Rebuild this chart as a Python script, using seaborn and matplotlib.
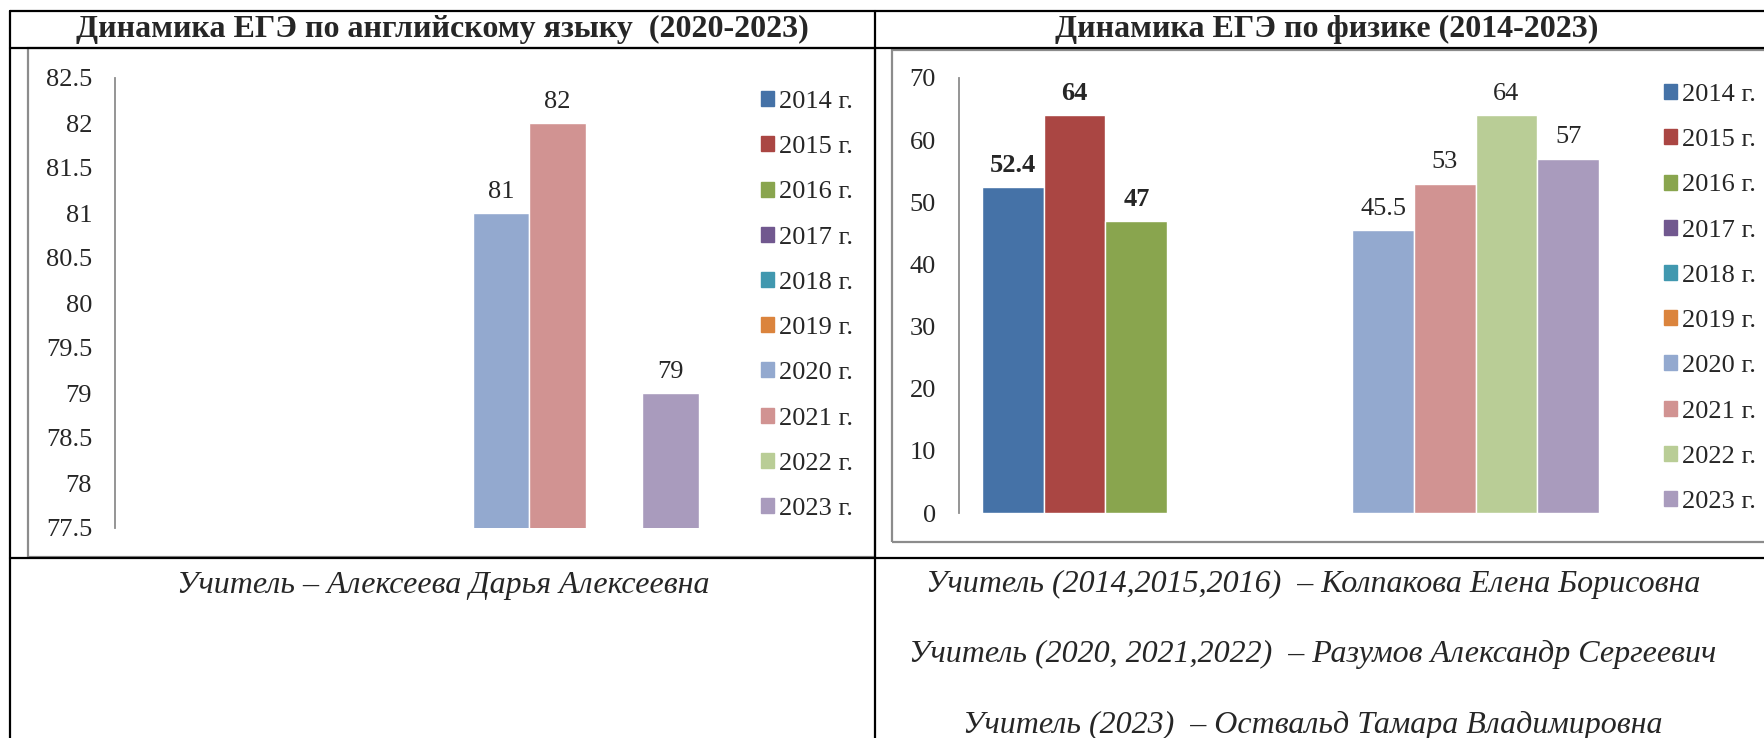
import numpy as np
import pandas as pd
import seaborn as sns
import matplotlib.pyplot as plt
from matplotlib.patches import Patch, Rectangle
from matplotlib.lines import Line2D

years = ['2014 г.', '2015 г.', '2016 г.', '2017 г.', '2018 г.',
         '2019 г.', '2020 г.', '2021 г.', '2022 г.', '2023 г.']
colors = ['#4572A7', '#AA4643', '#89A54E', '#71588F', '#4198AF',
          '#DB843D', '#93A9CF', '#D19392', '#B9CD96', '#A99BBD']
english = [np.nan, np.nan, np.nan, np.nan, np.nan, np.nan, 81, 82, np.nan, 79]
physics = [52.4, 64, 47, np.nan, np.nan, np.nan, 45.5, 53, 64, 57]
physics_bold = ['2014 г.', '2015 г.', '2016 г.']

title_eng = 'Динамика ЕГЭ по английскому языку  (2020-2023)'
title_phys = 'Динамика ЕГЭ по физике (2014-2023)'
teacher_eng = ['Учитель – Алексеева Дарья Алексеевна']
teacher_phys = ['Учитель (2014,2015,2016)  – Колпакова Елена Борисовна',
                'Учитель (2020, 2021,2022)  – Разумов Александр Сергеевич',
                'Учитель (2023)  – Оствальд Тамара Владимировна']

sns.set_style("white")
plt.rcParams['font.family'] = ['Liberation Serif', 'DejaVu Serif']

W, H = 1765, 738
fig = plt.figure(figsize=(W / 100, H / 100), dpi=100)


def fx(px):
    return px / W


def fy(py):
    return 1 - py / H


palette = dict(zip(years, colors))

# table lines
black = dict(color='black', lw=1.6, transform=fig.transFigure)
fig.add_artist(Line2D([fx(10), 1], [fy(10.5), fy(10.5)], **black))
fig.add_artist(Line2D([fx(10), 1], [fy(48), fy(48)], **black))
fig.add_artist(Line2D([fx(10), 1], [fy(558), fy(558)], **black))
fig.add_artist(Line2D([fx(10), fx(10)], [fy(10.5), 0], **black))
fig.add_artist(Line2D([fx(875), fx(875)], [fy(10.5), 0], **black))

# chart frames
for x0, y0, x1, y1 in [(28, 48, 875, 557), (892, 50, 1775, 542)]:
    fig.add_artist(Rectangle((fx(x0), fy(y1)), fx(x1 - x0), (y1 - y0) / H,
                             fill=False, edgecolor='#8c8c8c', lw=1.6,
                             transform=fig.transFigure))

fig.text(fx(442), fy(29), title_eng, ha='center', va='center',
         fontsize=23, fontweight='bold')
fig.text(fx(1327), fy(29), title_phys, ha='center', va='center',
         fontsize=23, fontweight='bold')

fig.text(fx(443), fy(585), teacher_eng[0], ha='center', va='center',
         fontsize=23, fontstyle='italic')
for t, yy in zip(teacher_phys, [584, 654, 725]):
    fig.text(fx(1313), fy(yy), t, ha='center', va='center',
             fontsize=23, fontstyle='italic')


def draw(ax, values, ylim, step, bold_years, xlim):
    df = pd.DataFrame({'g': [''] * len(years), 'year': years, 'value': values})
    sns.barplot(data=df, x='g', y='value', hue='year', hue_order=years,
                palette=palette, saturation=1, width=0.8, errorbar=None,
                legend=False, ax=ax)
    # one container per hue level; skip the empty years
    for cont, yr, v in zip(ax.containers, years, values):
        if np.isnan(v):
            continue
        ax.bar_label(cont, fmt='{:g}', padding=7.5, fontsize=19,
                     fontweight='bold' if yr in bold_years else 'normal')
    ax.set_ylim(*ylim)
    ax.set_xlim(*xlim)
    ticks = np.arange(ylim[0], ylim[1] + step / 2, step)
    ax.set_yticks(ticks)
    ax.set_yticklabels([f'{t:g}' for t in ticks], fontsize=19)
    ax.set_xticks([])
    ax.set_xlabel('')
    ax.set_ylabel('')
    ax.tick_params(axis='y', length=0, pad=16.5)
    for s in ['top', 'right', 'bottom']:
        ax.spines[s].set_visible(False)
    ax.spines['left'].set_color('#8c8c8c')
    ax.spines['left'].set_linewidth(1.3)
    ax.patch.set_alpha(0)


# english chart
ax1 = fig.add_axes([fx(115), fy(528), fx(706 * 0.9), (528 - 78) / H])
draw(ax1, english, (77.5, 82.5), 0.5, [], (-0.427, 0.473))

# physics chart
ax2 = fig.add_axes([fx(959), fy(513), fx(771 * 0.9), (513 - 78) / H])
draw(ax2, physics, (0, 70), 10, physics_bold, (-0.43, 0.47))

handles = [Patch(color=c, label=y) for y, c in zip(years, colors)]
leg_kw = dict(loc='upper left', frameon=False, fontsize=19, handlelength=0.5,
              handleheight=0.5, handletextpad=0.2, labelspacing=0.88,
              borderpad=0, borderaxespad=0)
fig.legend(handles=handles, bbox_to_anchor=(fx(761), fy(91)), **leg_kw)
fig.legend(handles=handles, bbox_to_anchor=(fx(1664), fy(84)), **leg_kw)

fig.savefig('out.png', dpi=100)
